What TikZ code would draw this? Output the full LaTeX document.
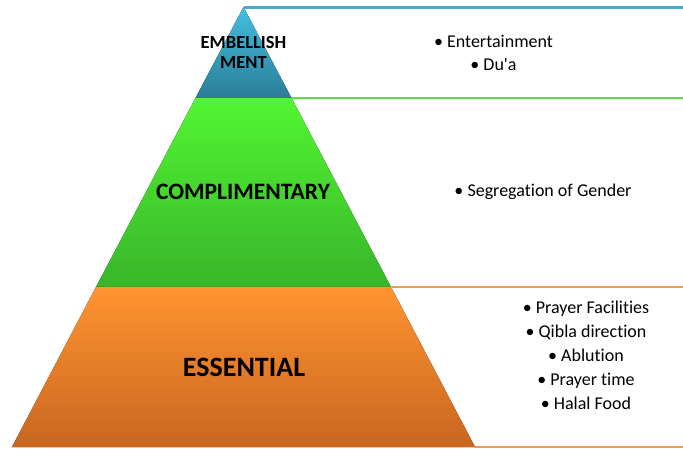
\documentclass[tikz,border=0pt]{standalone}
\usepackage{fontspec}
\setmainfont{Carlito}[Ligatures={NoCommon,NoRare}]
\usetikzlibrary{positioning}

\definecolor{embTop}{HTML}{42BFE0}
\definecolor{embBot}{HTML}{2B7D98}
\definecolor{comTop}{HTML}{52F532}
\definecolor{comBot}{HTML}{38B52A}
\definecolor{essTop}{HTML}{FF9430}
\definecolor{essBot}{HTML}{C96620}
\definecolor{embLine}{HTML}{4BA8C8}
\definecolor{comLine}{HTML}{62DE4C}
\definecolor{essLine}{HTML}{F39A4C}

\begin{document}
\begin{tikzpicture}[x=1pt,y=-1pt,
  tierlabel/.style={font=\bfseries,text=black,align=center},
  itemlist/.style={font=\fontsize{18}{24}\selectfont,text=black,align=center},
  rowline/.style={line width=2.2pt}]
\useasboundingbox[fill=white] (0,0) rectangle (683,449);

% pyramid tiers
\fill[top color=embTop,bottom color=embBot] (243.5,7) -- (291.5,98) -- (195.5,98) -- cycle;
\fill[top color=comTop,bottom color=comBot] (195.5,98) -- (291.5,98) -- (391,287) -- (96,287) -- cycle;
\fill[top color=essTop,bottom color=essBot] (96,287) -- (391,287) -- (475,447) -- (12,447) -- cycle;

% row lines
\draw[rowline,embLine] (244,7.5) -- (683,7.5);
\draw[rowline,comLine] (292,98) -- (683,98);
\draw[rowline,essLine] (392,287) -- (683,287);
\draw[rowline,essLine] (475,447) -- (683,447);

% tier labels
\node[tierlabel,font=\bfseries\fontsize{18.5}{19.5}\selectfont] (emb) at (243.5,52.5) {EMBELLISH\\MENT};
\node[tierlabel,font=\bfseries\fontsize{23.5}{24}\selectfont] (com) at (243,192) {COMPLIMENTARY};
\node[tierlabel,font=\bfseries\fontsize{28}{30}\selectfont] (ess) at (244,367) {ESSENTIAL};

% items
\node[itemlist,font=\fontsize{18}{23}\selectfont] (embItems) at (493.5,52.5) {\textbullet{} Entertainment\\\textbullet{} Du\textquotesingle a};
\node[itemlist] (comItems) at (543,192) {\textbullet{} Segregation of Gender};
\node[itemlist] (essItems) at (586,355) {\textbullet{} Prayer Facilities\\\textbullet{} Qibla direction\\\textbullet{} Ablution\\\textbullet{} Prayer time\\\textbullet{} Halal Food};

\end{tikzpicture}
\end{document}
